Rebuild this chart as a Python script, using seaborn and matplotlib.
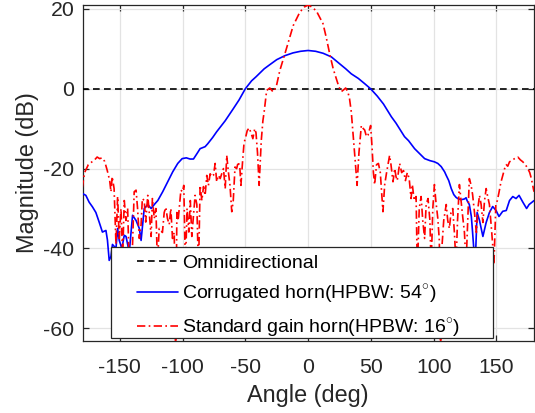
import matplotlib
matplotlib.use("Agg")
import matplotlib.pyplot as plt
import seaborn as sns
import pandas as pd
from matplotlib.patches import Rectangle

# ---------------- data ----------------
omni_angle = [-180, 180]
omni_db = [0, 0]

horn_angle = [-180, -177, -174.4, -171.7, -169, -166.4, -163.8, -161, -159.8, -158.4,
              -157, -155.8, -153, -151.7, -150.4, -148.3, -146.4, -145, -143.7, -142.4,
              -139.8, -137, -134.4, -133, -130.5, -127.7, -125, -122.5, -119.7, -115.8,
              -111.8, -107.8, -103.8, -100.3, -97, -94, -91.3, -88, -86, -82,
              -80, -76, -72.9, -66, -59.6, -55, -50, -45, -41.5, -35,
              -30.7, -25, -18.5, -12, -6, 0, 6, 12, 18.5, 25,
              30, 34.4, 40, 45, 49.8, 55, 60, 66.3, 70, 76.8,
              80, 84.8, 88, 92.8, 97, 100.6, 103.3, 106, 108.7, 110,
              112, 114, 116, 117.8, 119.2, 121.8, 124.6, 125.8, 126.6, 128.4,
              130, 131, 132.4, 133.3, 134.6, 136.5, 139.2, 141.8, 144.4, 147,
              149.7, 152, 155, 157.8, 160.4, 163, 165.6, 168, 171, 174,
              176, 180]
horn_db = [-26.2, -26.7, -28.4, -29.6, -31, -33.4, -35.9, -35.5, -37.9, -43,
           -42, -39, -40, -35, -38, -40, -36.7, -37, -39, -41,
           -31.7, -33, -35, -38, -30, -29, -30, -29, -28, -25.8,
           -23.3, -20.8, -18.7, -17.5, -17.3, -17.6, -17.6, -16, -15, -14.5,
           -13.8, -12.2, -10.8, -8, -5, -2.8, 0, 2, 3, 5,
           6, 7.3, 8.3, 9.0, 9.4, 9.6, 9.4, 8.9, 8.0, 6.3,
           5, 3.75, 2.6, 1.3, 0, -1.8, -3.8, -7, -8.6, -12,
           -13, -15, -16, -17.5, -18, -18.3, -18.7, -19.5, -20.8, -21.7,
           -23, -25, -26.5, -27.2, -27.5, -27.8, -27.6, -27.3, -28, -29,
           -32, -36, -42, -42, -31, -33, -37, -33.5, -31, -29.5,
           -30.5, -32, -30.7, -30.5, -28, -27, -27.5, -26.7, -28.4, -30,
           -29, -28]

sgh_angle = [-180, -178, -175, -172, -170, -168, -166, -164, -162, -160,
             -158, -157, -156, -154.5, -153, -151.7, -150.4, -149, -147.7, -146.4,
             -145, -143.7, -142.4, -141, -139.8, -138.5, -137, -135.8, -134.4, -133,
             -132, -130.5, -129.3, -127.7, -126.5, -125, -124, -122.5, -121.2, -120,
             -118.6, -116, -114.6, -113.3, -112, -110.6, -109.3, -108, -106.6, -105.5,
             -104.5, -103.5, -102.6, -101.3, -100, -99, -97.7, -96.4, -95, -93.8,
             -92.6, -91.3, -90, -88.6, -87.3, -86, -84.6, -83.3, -82, -80.7,
             -79.4, -78, -76.7, -75.4, -74, -72.8, -71.4, -70, -68.8, -67.4,
             -66, -64.8, -63.5, -62.2, -60.8, -59.6, -58.2, -56.9, -55.6, -54.3,
             -53.5, -52.2, -51, -50, -48.5, -47, -45.5, -44, -42.5, -41.5,
             -40.3, -39, -37.3, -36, -35, -33, -30.5, -27.8, -25.1, -22.5,
             -18.5, -15, -11.9, -6.6, -3, 0, 3, 6.6, 11.9, 14.5,
             17.2, 20, 22.5, 24.5, 26.5, 28.5, 29.9, 31.7, 33, 34.4,
             36, 37.5, 39, 40.5, 42.4, 44, 45, 46.5, 47.7, 49.8,
             51, 52, 53, 54.5, 56, 57.5, 59.6, 61, 62.5, 64.9,
             66, 67.6, 69, 70, 71, 72.9, 74.5, 76, 77.5, 79,
             80.5, 82, 83, 84.5, 86, 87, 88.5, 90, 91.3, 92.8,
             94, 95.5, 97, 98, 99.3, 100.6, 101.7, 103.3, 104.5, 105.5,
             106.5, 108, 110, 111.2, 112.5, 113.8, 115.2, 116.5, 117.8, 119,
             120.5, 121.8, 123, 124.5, 125.8, 127, 128.4, 129.7, 131, 132.5,
             134, 135.2, 136.5, 137.8, 139.2, 140.5, 141.8, 143, 144.4, 146,
             147.2, 148, 149.5, 150.7, 152, 153.5, 155, 156.5, 157.8, 159,
             160.4, 162, 164.4, 167, 169, 171, 173, 175, 176.5, 177.8,
             179.9]
sgh_db = [-25, -21, -19, -18.3, -17.8, -17.1, -17.5, -17.3, -18.2, -20.4,
          -23, -25.8, -22, -25, -39, -27, -37.5, -30, -42, -28,
          -33, -30, -45, -41, -39, -25.8, -25.4, -30, -37.5, -34,
          -27.5, -28, -33.4, -26.7, -31, -37, -27.5, -32.5, -30, -44,
          -35, -36, -31, -29.7, -32.5, -34, -30, -37.5, -36, -66,
          -31, -33, -30, -25.4, -25.8, -24.2, -45, -30, -35.9, -28,
          -37, -32, -26.7, -29, -46, -24.2, -28, -24.5, -26.7, -21.7,
          -24.2, -21.3, -22, -21.7, -18.7, -23.3, -21.7, -22.5, -21.3, -20,
          -25, -16.7, -20.8, -24.2, -30.8, -28, -19.6, -20, -18.3, -20,
          -24.2, -18.3, -13.5, -12.5, -10.5, -9.8, -11, -12.5, -10, -11,
          -16, -24.2, -13, -8, -5.8, -0.4, 0.2, -0.8, 0.9, 4.6,
          8.75, 12.5, 15.8, 19.2, 20.5, 21.0, 20.5, 19.5, 16.3, 12.8,
          8.75, 5, 2.5, 0.5, -0.7, -0.2, 0.2, -0.8, -2.5, -5.8,
          -12, -18, -24.2, -16, -9.2, -10, -10.3, -12, -11.6, -9.2,
          -15, -21, -24, -19, -18.7, -21, -30.8, -24, -21, -16.7,
          -19, -23.3, -20, -22, -23, -18.7, -21, -20.5, -23, -21,
          -22.5, -27.5, -24, -28, -27, -46, -30, -27, -33, -37.5,
          -29, -27.5, -33, -45, -30, -24, -28, -32.5, -38, -66,
          -40, -33, -29, -33, -35, -31, -30, -36, -44, -33,
          -24, -28, -31.7, -36, -44, -34, -22.5, -24, -26.5, -31,
          -36, -30, -26.7, -29, -33.5, -28, -25, -27, -29, -35,
          -40, -44, -29, -28, -26, -23.5, -21.7, -20, -19, -19.4,
          -18.3, -18, -17.5, -17.1, -17.8, -18.3, -19, -20, -21, -22.5,
          -25.8]

x_ticks = [-150, -100, -50, 0, 50, 100, 150]
y_ticks = [-60, -40, -20, 0, 20]
labels = ["Omnidirectional",
          r"Corrugated horn(HPBW: 54$^{\circ}$)",
          r"Standard gain horn(HPBW: 16$^{\circ}$)"]

# ---------------- style ----------------
sns.set_theme(style="ticks")
plt.rcParams["font.family"] = ["Liberation Sans", "DejaVu Sans"]
plt.rcParams["mathtext.fontset"] = "custom"
plt.rcParams["mathtext.rm"] = "Liberation Sans"
plt.rcParams["axes.unicode_minus"] = False
dark = "#262626"

fig = plt.figure(figsize=(5.35, 4.13), dpi=100)
ax = fig.add_axes([82.7 / 535, 1 - 341 / 413, (533.5 - 82.7) / 535, (341 - 5) / 413])

omni_df = pd.DataFrame({"angle": omni_angle, "db": omni_db})
horn_df = pd.DataFrame({"angle": horn_angle, "db": horn_db})
sgh_df = pd.DataFrame({"angle": sgh_angle, "db": sgh_db})

sns.lineplot(data=omni_df, x="angle", y="db", ax=ax, color="black", lw=1.2,
             sort=False, estimator=None, label=labels[0], zorder=3,
             dashes=False)
ax.lines[-1].set_dashes((4, 2.6))
sns.lineplot(data=horn_df, x="angle", y="db", ax=ax, color="#0000FF", lw=1.2,
             sort=False, estimator=None, label=labels[1], zorder=3)
sns.lineplot(data=sgh_df, x="angle", y="db", ax=ax, color="#FF0000", lw=1.2,
             sort=False, estimator=None, label=labels[2], zorder=3)
ax.lines[-1].set_linestyle((0, (5, 2, 1, 2)))

ax.set_xlim(-179.5, 179.5)
ax.set_ylim(-63.2, 21)
ax.set_xticks(x_ticks)
ax.set_yticks(y_ticks)
ax.grid(True, color="#e3e3e3", lw=0.9)
ax.set_axisbelow(True)
for s in ax.spines.values():
    s.set_color(dark)
    s.set_linewidth(0.9)
ax.tick_params(direction="in", length=4, width=0.9, colors=dark,
               top=True, right=True, labelsize=15.3)
ax.tick_params(axis="x", pad=12.5)
ax.tick_params(axis="y", pad=6)
ax.set_xlabel("Angle (deg)", fontsize=16.9, color=dark, labelpad=5)
ax.set_ylabel("Magnitude (dB)", fontsize=16.9, color=dark, labelpad=3)

# legend box (MATLAB-style wide frame)
lx0, ly0 = (110.7 - 82.7) / 450.8, (341 - 338) / 336
lw_, lh_ = (492.7 - 110.7) / 450.8, (338 - 246.7) / 336
ax.add_patch(Rectangle((lx0, ly0), lw_, lh_, transform=ax.transAxes,
                       facecolor="white", edgecolor=dark, lw=0.9, zorder=4))
leg = ax.legend(loc="upper left", bbox_to_anchor=(lx0 + 0.049, ly0 + lh_ - 0.01),
                frameon=False, fontsize=14, handlelength=2.15, handletextpad=0.2,
                labelspacing=0.56, borderpad=0.2, borderaxespad=0)
leg.set_zorder(5)
for t in leg.get_texts():
    t.set_color("black")

fig.savefig("out.png", dpi=100)
